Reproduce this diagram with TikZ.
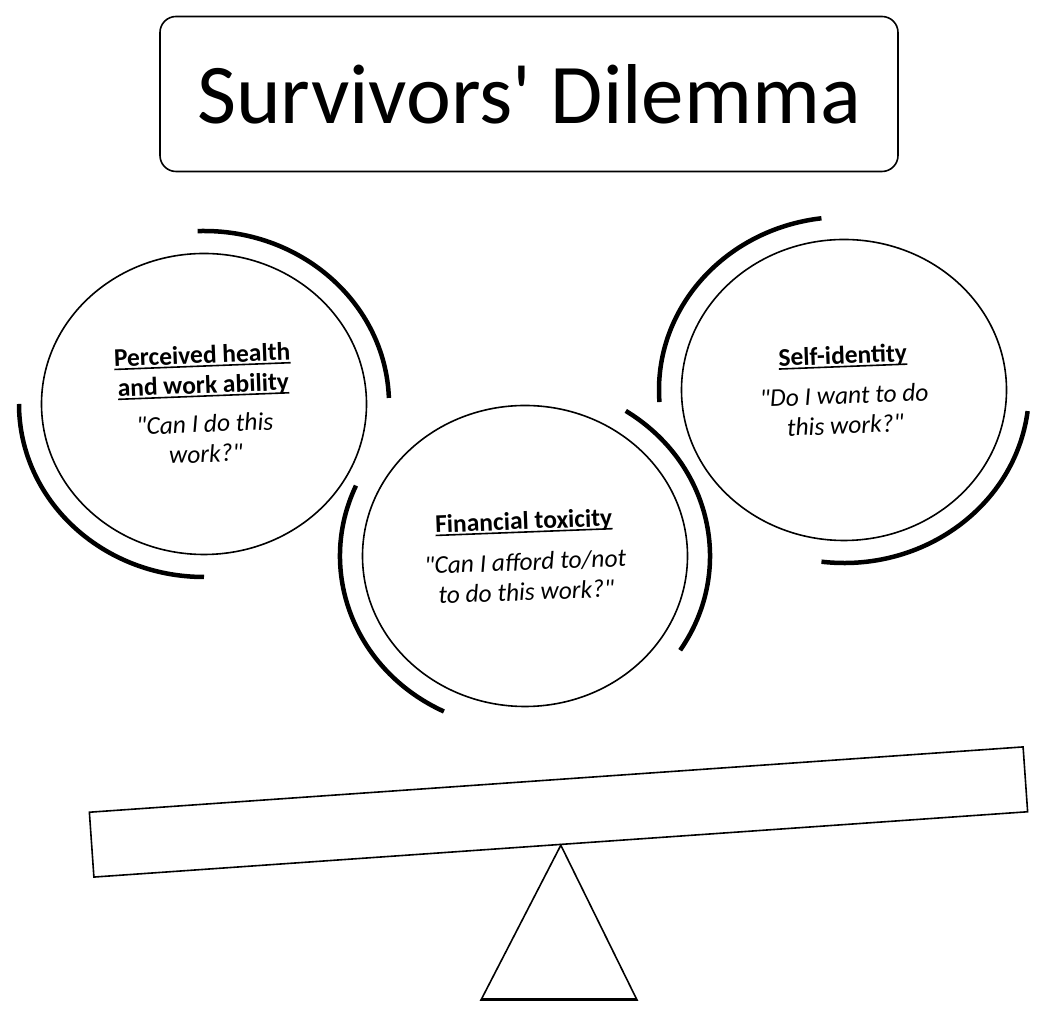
\documentclass[tikz,border=0pt]{standalone}
\usepackage{fontspec}
\setmainfont{Carlito}[Ligatures=TeXOff]
\usetikzlibrary{shapes.geometric}
\newcommand{\ulbar}[1]{\setbox0\hbox{#1}\leavevmode\rlap{\rule[-3.5pt]{\wd0}{1.6pt}}\box0}

\begin{document}
\begin{tikzpicture}[x=1pt,y=1pt,
  titlebox/.style={draw,line width=1.6pt,rounded corners=16pt,minimum width=738pt,
                   minimum height=155pt,inner sep=0pt,font=\fontsize{85}{100}\selectfont},
  ring/.style={draw,ellipse,line width=1.6pt,minimum width=325pt,minimum height=301pt,inner sep=0pt},
  topic/.style={align=center,rotate=2.2,font=\fontsize{25.5}{30}\selectfont},
  arcline/.style={line width=4.5pt},
  plank/.style={draw,line width=1.6pt,minimum width=936pt,minimum height=65pt,inner sep=0pt}]
  \useasboundingbox (0,0) rectangle (1050,1014);
  \node[titlebox] (title) at (529,920) {Survivors' Dilemma};
  % the three circles
  \node[ring] (health) at (204,610) {};
  \node[ring] (money) at (525,458) {};
  \node[ring] (self) at (844,624) {};
  \node[topic] (healthtxt) at (health.center) {\ulbar{\textbf{Perceived health}}\\
    \ulbar{\textbf{and work ability}}\\[9pt]\textit{"Can I do this}\\\textit{work?"}};
  \node[topic] (moneytxt) at (money.center) {\ulbar{\textbf{Financial toxicity}}\\[11pt]
    \textit{"Can I afford to/not}\\\textit{to do this work?"}};
  \node[topic] (selftxt) at (self.center) {\ulbar{\textbf{Self-identity}}\\[10pt]
    \textit{"Do I want to do}\\\textit{this work?"}};
  % thick arcs round them
  \draw[arcline] (health.center) ++(92:185pt and 173pt) arc[start angle=92,end angle=2,x radius=185pt,y radius=173pt];
  \draw[arcline] (health.center) ++(180:185pt and 173pt) arc[start angle=180,end angle=270,x radius=185pt,y radius=173pt];
  \draw[arcline] (money.center) ++(156:185pt and 173pt) arc[start angle=156,end angle=244,x radius=185pt,y radius=173pt];
  \draw[arcline] (money.center) ++(57:185pt and 173pt) arc[start angle=57,end angle=-33,x radius=185pt,y radius=173pt];
  \draw[arcline] (self.center) ++(97:185pt and 173pt) arc[start angle=97,end angle=184,x radius=185pt,y radius=173pt];
  \draw[arcline] (self.center) ++(-7:185pt and 173pt) arc[start angle=-7,end angle=-97,x radius=185pt,y radius=173pt];
  % seesaw
  \node[plank,rotate=4] (beam) at (558.5,202) {};
  \coordinate (footL) at (481,14);
  \coordinate (footR) at (637,14);
  \draw[line width=1.6pt,line join=miter] (beam.south) -- (footR) -- (footL) -- cycle;
  \draw[line width=3pt] (footL) -- (footR);
\end{tikzpicture}
\end{document}
